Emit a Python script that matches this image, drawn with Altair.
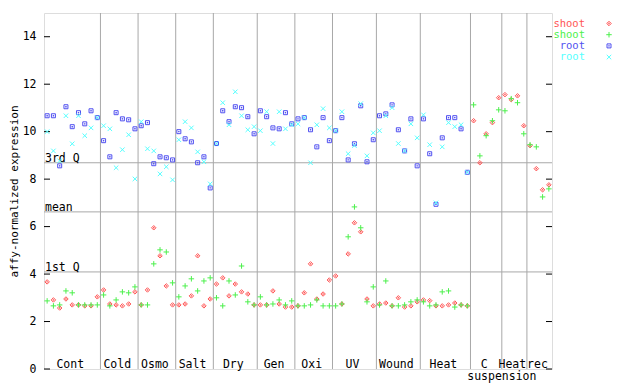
import altair as alt
import pandas as pd

# ---------------- data ----------------
group_names = ["Cont", "Cold", "Osmo", "Salt", "Dry", "Gen", "Oxi", "UV",
               "Wound", "Heat", "C", "Heat", "rec"]
group_sizes = [9, 6, 6, 6, 7, 6, 6, 7, 7, 8, 5, 4, 4]
sub_label = "suspension"

shoot_red = [3.67, 2.91, 2.57, 2.95, 2.70, 2.70, 2.66, 2.66, 3.04,
             3.33, 2.74, 2.70, 2.66, 2.74, 3.25,
             2.70, 3.33, 5.95, 4.77, 3.50, 2.70,
             2.70, 2.74, 3.08, 4.77, 2.66, 2.95,
             3.58, 3.84, 3.08, 3.58, 3.25, 3.16, 2.70,
             2.70, 2.70, 3.29, 2.74, 2.61, 2.61,
             2.66, 3.21, 4.43, 2.95, 3.16, 3.75,
             3.92, 2.74, 4.85, 6.16, 5.78, 2.95, 2.66,
             2.74, 2.78, 2.66, 3.00, 2.61, 2.66, 2.83,
             2.91, 2.88, 2.66, 2.66, 2.70, 2.78, 2.70, 2.66,
             10.46, 8.69, 9.91, 10.38, 11.43,
             11.56, 11.35, 11.51, 10.25,
             9.41, 8.44, 7.55, 7.76]

shoot_green = [2.87, 2.66, 2.70, 3.29, 3.21, 2.70, 2.70, 2.70, 2.70,
               3.12, 2.66, 2.91, 3.25, 3.21, 3.46,
               2.70, 2.70, 4.43, 5.02, 4.93, 3.63,
               3.04, 3.50, 3.80, 3.29, 3.71, 3.84,
               3.00, 2.66, 3.71, 3.12, 4.34, 2.83, 2.70,
               3.04, 2.70, 2.74, 2.91, 2.70, 2.87,
               2.66, 2.66, 2.70, 2.91, 2.66, 2.66,
               2.66, 2.74, 5.57, 6.83, 5.95, 2.83, 3.46,
               2.70, 3.71, 2.66, 2.66, 2.70, 2.83, 2.91,
               2.83, 2.66, 2.70, 3.25, 3.29, 2.61, 2.70, 2.66,
               11.13, 8.98, 9.83, 10.46, 10.92,
               10.88, 11.39, 11.22, 9.91,
               9.45, 9.36, 7.25, 7.59]

root_blue = [10.67, 10.67, 8.56, 11.05, 10.21, 10.80, 10.33, 10.88, 10.59,
             9.62, 8.94, 10.80, 10.54, 10.50, 10.12,
             10.25, 10.38, 8.65, 8.94, 8.90, 8.81,
             10.00, 9.70, 9.57, 8.69, 8.94, 7.63,
             9.50, 10.88, 10.42, 11.05, 11.01, 10.63, 9.91,
             10.88, 10.63, 10.16, 10.12, 10.80, 10.33,
             10.54, 10.59, 10.08, 9.36, 10.59, 9.62,
             10.04, 10.59, 8.81, 9.49, 11.09, 8.73, 9.66,
             10.67, 10.75, 11.13, 10.08, 9.19, 10.54, 8.56,
             10.54, 9.07, 6.94, 9.74, 10.59, 10.59, 10.12, 8.29]

root_cyan = [10.00, 9.19, 8.77, 10.67, 9.49, 10.67, 9.83, 10.16, 10.59,
             10.25, 10.12, 8.48, 9.24, 9.87, 8.01,
             10.42, 9.28, 9.19, 8.22, 8.52, 7.97,
             9.66, 10.42, 10.16, 9.15, 8.73, 7.80,
             9.50, 11.22, 10.29, 11.68, 10.67, 10.08, 10.21,
             10.04, 10.84, 9.50, 10.84, 10.12, 10.29,
             10.33, 10.59, 8.69, 10.29, 10.97, 10.16,
             10.04, 10.84, 9.07, 9.41, 11.18, 8.98, 9.95,
             10.04, 10.67, 11.01, 9.50, 9.19, 10.33, 9.74,
             10.71, 9.45, 7.00, 9.36, 10.38, 10.21, 10.29, 8.29]

quart_names = ["3rd Q", "mean", "1st Q"]
quart_values = [8.69, 6.62, 4.09]
y_ticks = [0, 2, 4, 6, 8, 10, 12, 14]
legend_labels = ["shoot", "shoot", "root", "root"]

# ---------------- styling ----------------
FONT = "DejaVu Sans Mono"
FS = 11.5
LFS = 10.5
W, H = 508, 356
GRID = "#a8a8a8"
RED, GREEN, BLUE, CYAN = "#ff5555", "#4cf04c", "#5050f0", "#55ffff"
PLUS = "M-1,0L1,0M0,-1L0,1"
XSH = "M-1,-1L1,1M-1,1L1,-1"

total = sum(group_sizes)
starts = [sum(group_sizes[:i]) for i in range(len(group_sizes))]
bounds = starts[1:]
centers = [s + n / 2 for s, n in zip(starts, group_sizes)]

xs = alt.Scale(domain=[0, total], nice=False, zero=False)
ys = alt.Scale(domain=[0, 15], nice=False, zero=True)
yaxis = alt.Axis(values=y_ticks, ticks=False, tickSize=0, domain=False, grid=False,
                 labelFont=FONT, labelFontSize=FS, labelColor="black", labelPadding=8,
                 title="affy-normalized expression", titleFont=FONT, titleFontSize=11,
                 titleFontWeight="normal", titleColor="black", titleX=-29.5, titleY=H / 2,
                 titleAlign="center", titleBaseline="middle", titleAngle=270)


def sdf(vals):
    return pd.DataFrame({"x": [i + 0.5 for i in range(len(vals))], "y": vals})


def X(f):
    return alt.X(f, scale=xs, axis=None)


def Y(f):
    return alt.Y(f, scale=ys, axis=yaxis)


layers = []

# vertical separators
layers.append(alt.Chart(pd.DataFrame({"b": bounds})).mark_rule(color=GRID, strokeWidth=1)
              .encode(x=X("b:Q")))
# quartile lines
qdf = pd.DataFrame({"n": quart_names, "v": quart_values})
layers.append(alt.Chart(qdf).mark_rule(color=GRID, strokeWidth=1).encode(y=Y("v:Q")))
layers.append(alt.Chart(qdf).mark_text(align="left", baseline="alphabetic", dx=1, dy=-1,
                                       font=FONT, fontSize=FS, color="black")
              .encode(y=Y("v:Q"), x=alt.value(0), text="n:N"))
# inward ticks
tdf = pd.DataFrame({"t": y_ticks})
layers.append(alt.Chart(tdf).mark_rule(color="black", strokeWidth=1)
              .encode(y=Y("t:Q"), x=alt.value(0), x2=alt.value(6)))
layers.append(alt.Chart(tdf).mark_rule(color="black", strokeWidth=1)
              .encode(y=Y("t:Q"), x=alt.value(W - 6), x2=alt.value(W)))

# series
red_df, green_df, blue_df, cyan_df = sdf(shoot_red), sdf(shoot_green), sdf(root_blue), sdf(root_cyan)
layers.append(alt.Chart(red_df).mark_point(shape="diamond", filled=False, size=20,
                                           strokeWidth=1, color=RED, opacity=1)
              .encode(x=X("x:Q"), y=Y("y:Q")))
layers.append(alt.Chart(red_df).mark_point(shape="square", filled=True, size=2,
                                           color=RED, opacity=1)
              .encode(x=X("x:Q"), y=Y("y:Q")))
layers.append(alt.Chart(green_df).mark_point(shape=PLUS, filled=False, size=30,
                                             strokeWidth=1, color=GREEN, opacity=1)
              .encode(x=X("x:Q"), y=Y("y:Q")))
layers.append(alt.Chart(blue_df).mark_point(shape="square", filled=False, size=16,
                                            strokeWidth=1, color=BLUE, opacity=1)
              .encode(x=X("x:Q"), y=Y("y:Q")))
layers.append(alt.Chart(blue_df).mark_point(shape="square", filled=True, size=2,
                                            color=BLUE, opacity=1)
              .encode(x=X("x:Q"), y=Y("y:Q")))
layers.append(alt.Chart(cyan_df).mark_point(shape=XSH, filled=False, size=20,
                                            strokeWidth=1, color=CYAN, opacity=1)
              .encode(x=X("x:Q"), y=Y("y:Q")))

# group labels
gdf = pd.DataFrame({"c": centers, "g": group_names})
layers.append(alt.Chart(gdf).mark_text(align="center", baseline="alphabetic", dx=-2,
                                       font=FONT, fontSize=FS, color="black")
              .encode(x=X("c:Q"), y=alt.value(355), text="g:N"))
sdf2 = pd.DataFrame({"c": [bounds[10]], "g": [sub_label]})
layers.append(alt.Chart(sdf2).mark_text(align="center", baseline="alphabetic",
                                        font=FONT, fontSize=FS, color="black")
              .encode(x=X("c:Q"), y=alt.value(367), text="g:N"))

# legend
leg_colors = [RED, GREEN, BLUE, CYAN]
leg_shapes = ["diamond", PLUS, "square", XSH]
leg_sizes = [20, 30, 16, 20]
for k, (lab, col, shp, sz) in enumerate(zip(legend_labels, leg_colors, leg_shapes, leg_sizes)):
    yy = 10.5 + 11.2 * k
    d = pd.DataFrame({"t": [lab]})
    layers.append(alt.Chart(d).mark_text(align="right", baseline="middle", font=FONT,
                                         fontSize=LFS, color=col)
                  .encode(x=alt.value(541), y=alt.value(yy), text="t:N"))
    layers.append(alt.Chart(d).mark_point(shape=shp, filled=False, size=sz, strokeWidth=1,
                                          color=col, opacity=1)
                  .encode(x=alt.value(565), y=alt.value(yy)))
    if shp in ("diamond", "square"):
        layers.append(alt.Chart(d).mark_point(shape="square", filled=True, size=2,
                                              color=col, opacity=1)
                      .encode(x=alt.value(565), y=alt.value(yy)))

chart = (alt.layer(*layers)
         .properties(width=W, height=H, autosize="none",
                     padding={"left": 36, "top": 5, "right": 80, "bottom": 14})
         .configure_view(stroke="black", strokeWidth=1)
         .configure(background="white"))

chart.save("out.html", embed_options={"renderer": "svg", "actions": False})
